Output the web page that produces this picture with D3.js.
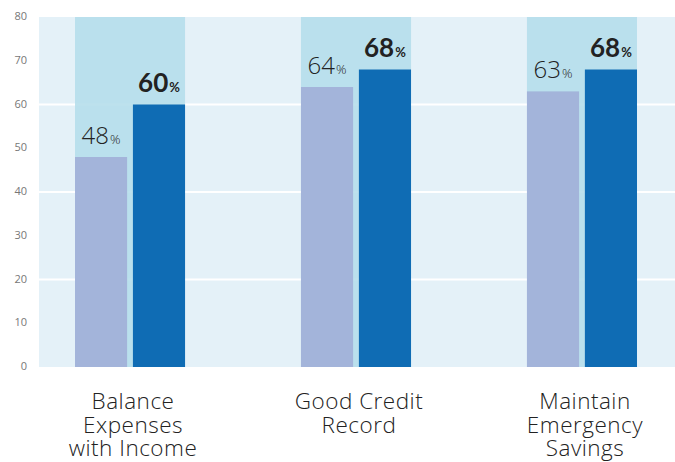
<!DOCTYPE html>
<html>
<head>
<meta charset="utf-8">
<script src="https://cdn.jsdelivr.net/npm/d3@7"></script>
<style>
  body { margin: 0; background: #fff; }
  svg { display: block; }
</style>
</head>
<body>
<div id="chart"></div>
<script>
// chart data
const categories = ["Balance Expenses with Income", "Good Credit Record", "Maintain Emergency Savings"];
const categoryLines = [["Balance", "Expenses", "with Income"], ["Good Credit", "Record"], ["Maintain", "Emergency", "Savings"]];
const series = ["before", "after"];
const beforeValues = [48, 64, 63];
const afterValues = [60, 68, 68];
const yTicks = [0, 10, 20, 30, 40, 50, 60, 70, 80];
const gridTicks = [20, 40, 60];

const w = 675;
const h = 462;
const plotLeft = 39;

const svg = d3.select("#chart")
    .append("svg")
    .attr("width", w)
    .attr("height", h);

const yScale = d3.scaleLinear().domain([0, 80]).range([367, 17]);

const xScale = d3.scaleBand()
    .domain(categories)
    .range([18.5, 693.5])
    .paddingInner(0.513)
    .paddingOuter(0.25);

const xSub = d3.scaleBand()
    .domain(series)
    .range([0, xScale.bandwidth()])
    .paddingInner(0.1)
    .paddingOuter(0);

const colors = { before: "#a3b4da", after: "#0f6cb4" };

// plot background
svg.append("rect")
    .attr("x", plotLeft)
    .attr("y", yScale(80))
    .attr("width", w - plotLeft)
    .attr("height", yScale(0) - yScale(80))
    .attr("fill", "#e4f1f8");

// white gridlines
svg.selectAll(".grid")
    .data(gridTicks)
    .enter()
    .append("line")
    .attr("class", "grid")
    .attr("x1", plotLeft)
    .attr("x2", w)
    .attr("y1", (d) => yScale(d))
    .attr("y2", (d) => yScale(d))
    .attr("stroke", "#fff")
    .attr("stroke-width", 2);

// column behind each pair of bars
svg.selectAll(".col")
    .data(categories)
    .enter()
    .append("rect")
    .attr("class", "col")
    .attr("x", (d) => xScale(d))
    .attr("y", yScale(80))
    .attr("width", xScale.bandwidth())
    .attr("height", yScale(0) - yScale(80))
    .attr("fill", "#b4ddea")
    .attr("fill-opacity", 0.88);

const rows = categories.map((c, i) => ({ cat: c, before: beforeValues[i], after: afterValues[i] }));

const groups = svg.selectAll(".group")
    .data(rows)
    .enter()
    .append("g")
    .attr("class", "group")
    .attr("transform", (d) => `translate(${xScale(d.cat)},0)`);

groups.selectAll("rect")
    .data((d) => series.map((s) => ({ key: s, value: d[s] })))
    .enter()
    .append("rect")
    .attr("x", (d) => xSub(d.key))
    .attr("y", (d) => yScale(d.value))
    .attr("width", xSub.bandwidth())
    .attr("height", (d) => yScale(0) - yScale(d.value))
    .attr("fill", (d) => colors[d.key]);

// value labels: light for the first bar, bold for the second
const labels = groups.selectAll(".val")
    .data((d) => series.map((s) => ({ key: s, value: d[s] })))
    .enter()
    .append("text")
    .attr("class", "val")
    .attr("x", (d) => xSub(d.key) + xSub.bandwidth() / 2)
    .attr("y", (d) => yScale(d.value) - 13)
    .attr("text-anchor", "middle")
    .attr("font-family", (d) => (d.key === "after" ? "Lato, sans-serif" : "'Open Sans', sans-serif"))
    .attr("font-weight", (d) => (d.key === "after" ? 700 : 300))
    .attr("fill", "#222");

labels.append("tspan")
    .attr("font-size", (d) => (d.key === "after" ? 26 : 24))
    .text((d) => d.value);
labels.append("tspan")
    .attr("font-size", 13)
    .attr("dx", 1)
    .text("%");

// y axis, labels only
const yAxis = d3.axisLeft(yScale).tickValues(yTicks).tickSize(0).tickPadding(0);
const yG = svg.append("g")
    .attr("transform", "translate(27,-1)")
    .call(yAxis);
yG.select(".domain").remove();
yG.selectAll("text")
    .attr("font-family", "'Open Sans', sans-serif")
    .attr("font-size", 11)
    .attr("fill", "#777");

// category labels, one text per line
const catLabels = [];
categories.forEach((c, i) => {
    categoryLines[i].forEach((line, j) => catLabels.push({ cat: c, line: line, row: j }));
});

svg.selectAll(".cat")
    .data(catLabels)
    .enter()
    .append("text")
    .attr("class", "cat")
    .attr("x", (d) => xScale(d.cat) + xScale.bandwidth() / 2 + 3)
    .attr("y", (d) => 409 + d.row * 23.5)
    .attr("text-anchor", "middle")
    .attr("font-family", "'Open Sans', sans-serif")
    .attr("font-weight", 300)
    .attr("font-size", 22.5)
    .attr("letter-spacing", 0.5)
    .attr("fill", "#222")
    .text((d) => d.line);
</script>
</body>
</html>
